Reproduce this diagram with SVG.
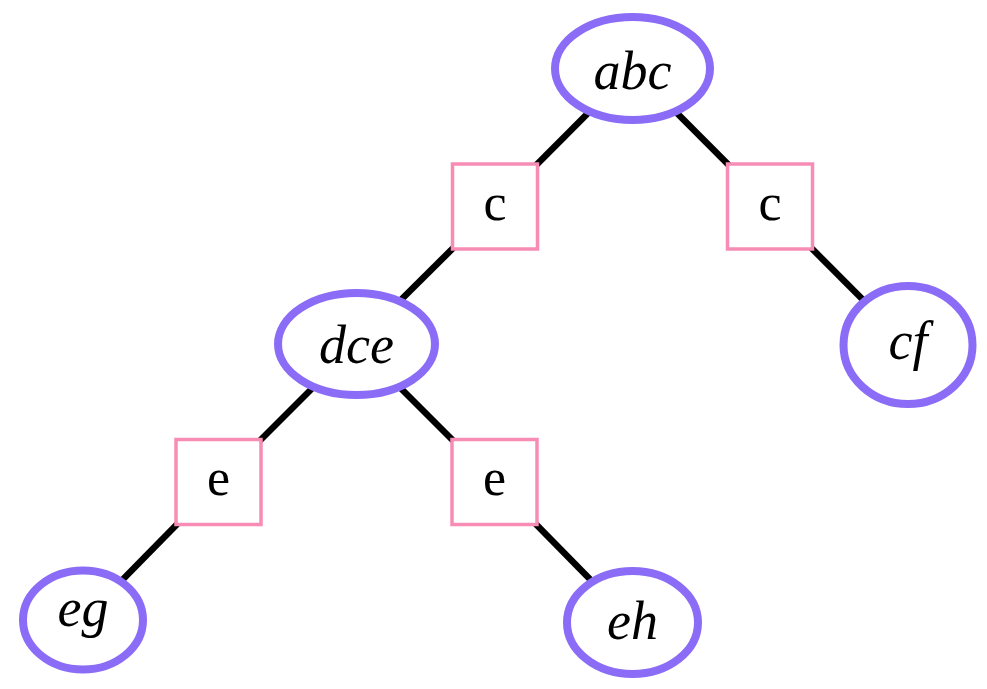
<svg xmlns="http://www.w3.org/2000/svg" width="987" height="689" viewBox="0 0 987 689">
<style>
.edge{stroke:#000;stroke-width:6.5;fill:none}
.st{fill:#fff;stroke:#8b6cf7;stroke-width:8}
.sq{fill:#fff;stroke:#f78db5;stroke-width:3.5}
.lbl{font-family:"Liberation Serif",serif;font-style:italic;font-size:54px;text-anchor:middle;fill:#000}
.sym{font-family:"Liberation Serif",serif;font-size:52px;text-anchor:middle;fill:#000}
</style>
<rect width="987" height="689" fill="#fff"/>
<g id="connectors">
<line class="edge" x1="632.5" y1="68.5" x2="495" y2="206.5"/>
<line class="edge" x1="632.5" y1="68.5" x2="770" y2="206.5"/>
<line class="edge" x1="495" y1="206.5" x2="356.5" y2="344"/>
<line class="edge" x1="770" y1="206.5" x2="908" y2="345"/>
<line class="edge" x1="356.5" y1="344" x2="218.5" y2="482"/>
<line class="edge" x1="356.5" y1="344" x2="494.5" y2="482"/>
<line class="edge" x1="218.5" y1="482" x2="83" y2="620"/>
<line class="edge" x1="494.5" y1="482" x2="632.5" y2="622.5"/>
</g>
<g id="abc"><ellipse class="st" cx="632.5" cy="68.5" rx="77.5" ry="51.5"/><text class="lbl" x="632.5" y="89">abc</text></g>
<g id="c1"><rect class="sq" x="452.5" y="164" width="85" height="85"/><text class="sym" x="495" y="220">c</text></g>
<g id="c2"><rect class="sq" x="727.5" y="164" width="85" height="85"/><text class="sym" x="770" y="220">c</text></g>
<g id="dce"><ellipse class="st" cx="356.5" cy="344" rx="78.5" ry="51"/><text class="lbl" x="356.5" y="363">dce</text></g>
<g id="cf"><ellipse class="st" cx="908" cy="345" rx="64.5" ry="59"/><text class="lbl" x="908" y="359">cf</text></g>
<g id="e1"><rect class="sq" x="176" y="439.5" width="85" height="85"/><text class="sym" x="218.5" y="495">e</text></g>
<g id="e2"><rect class="sq" x="452" y="439.5" width="85" height="85"/><text class="sym" x="494.5" y="495">e</text></g>
<g id="eg"><ellipse class="st" cx="83" cy="620" rx="60" ry="49.5"/><text class="lbl" x="83" y="626">eg</text></g>
<g id="eh"><ellipse class="st" cx="632.5" cy="622.5" rx="65.5" ry="51.5"/><text class="lbl" x="632.5" y="639">eh</text></g>
</svg>
